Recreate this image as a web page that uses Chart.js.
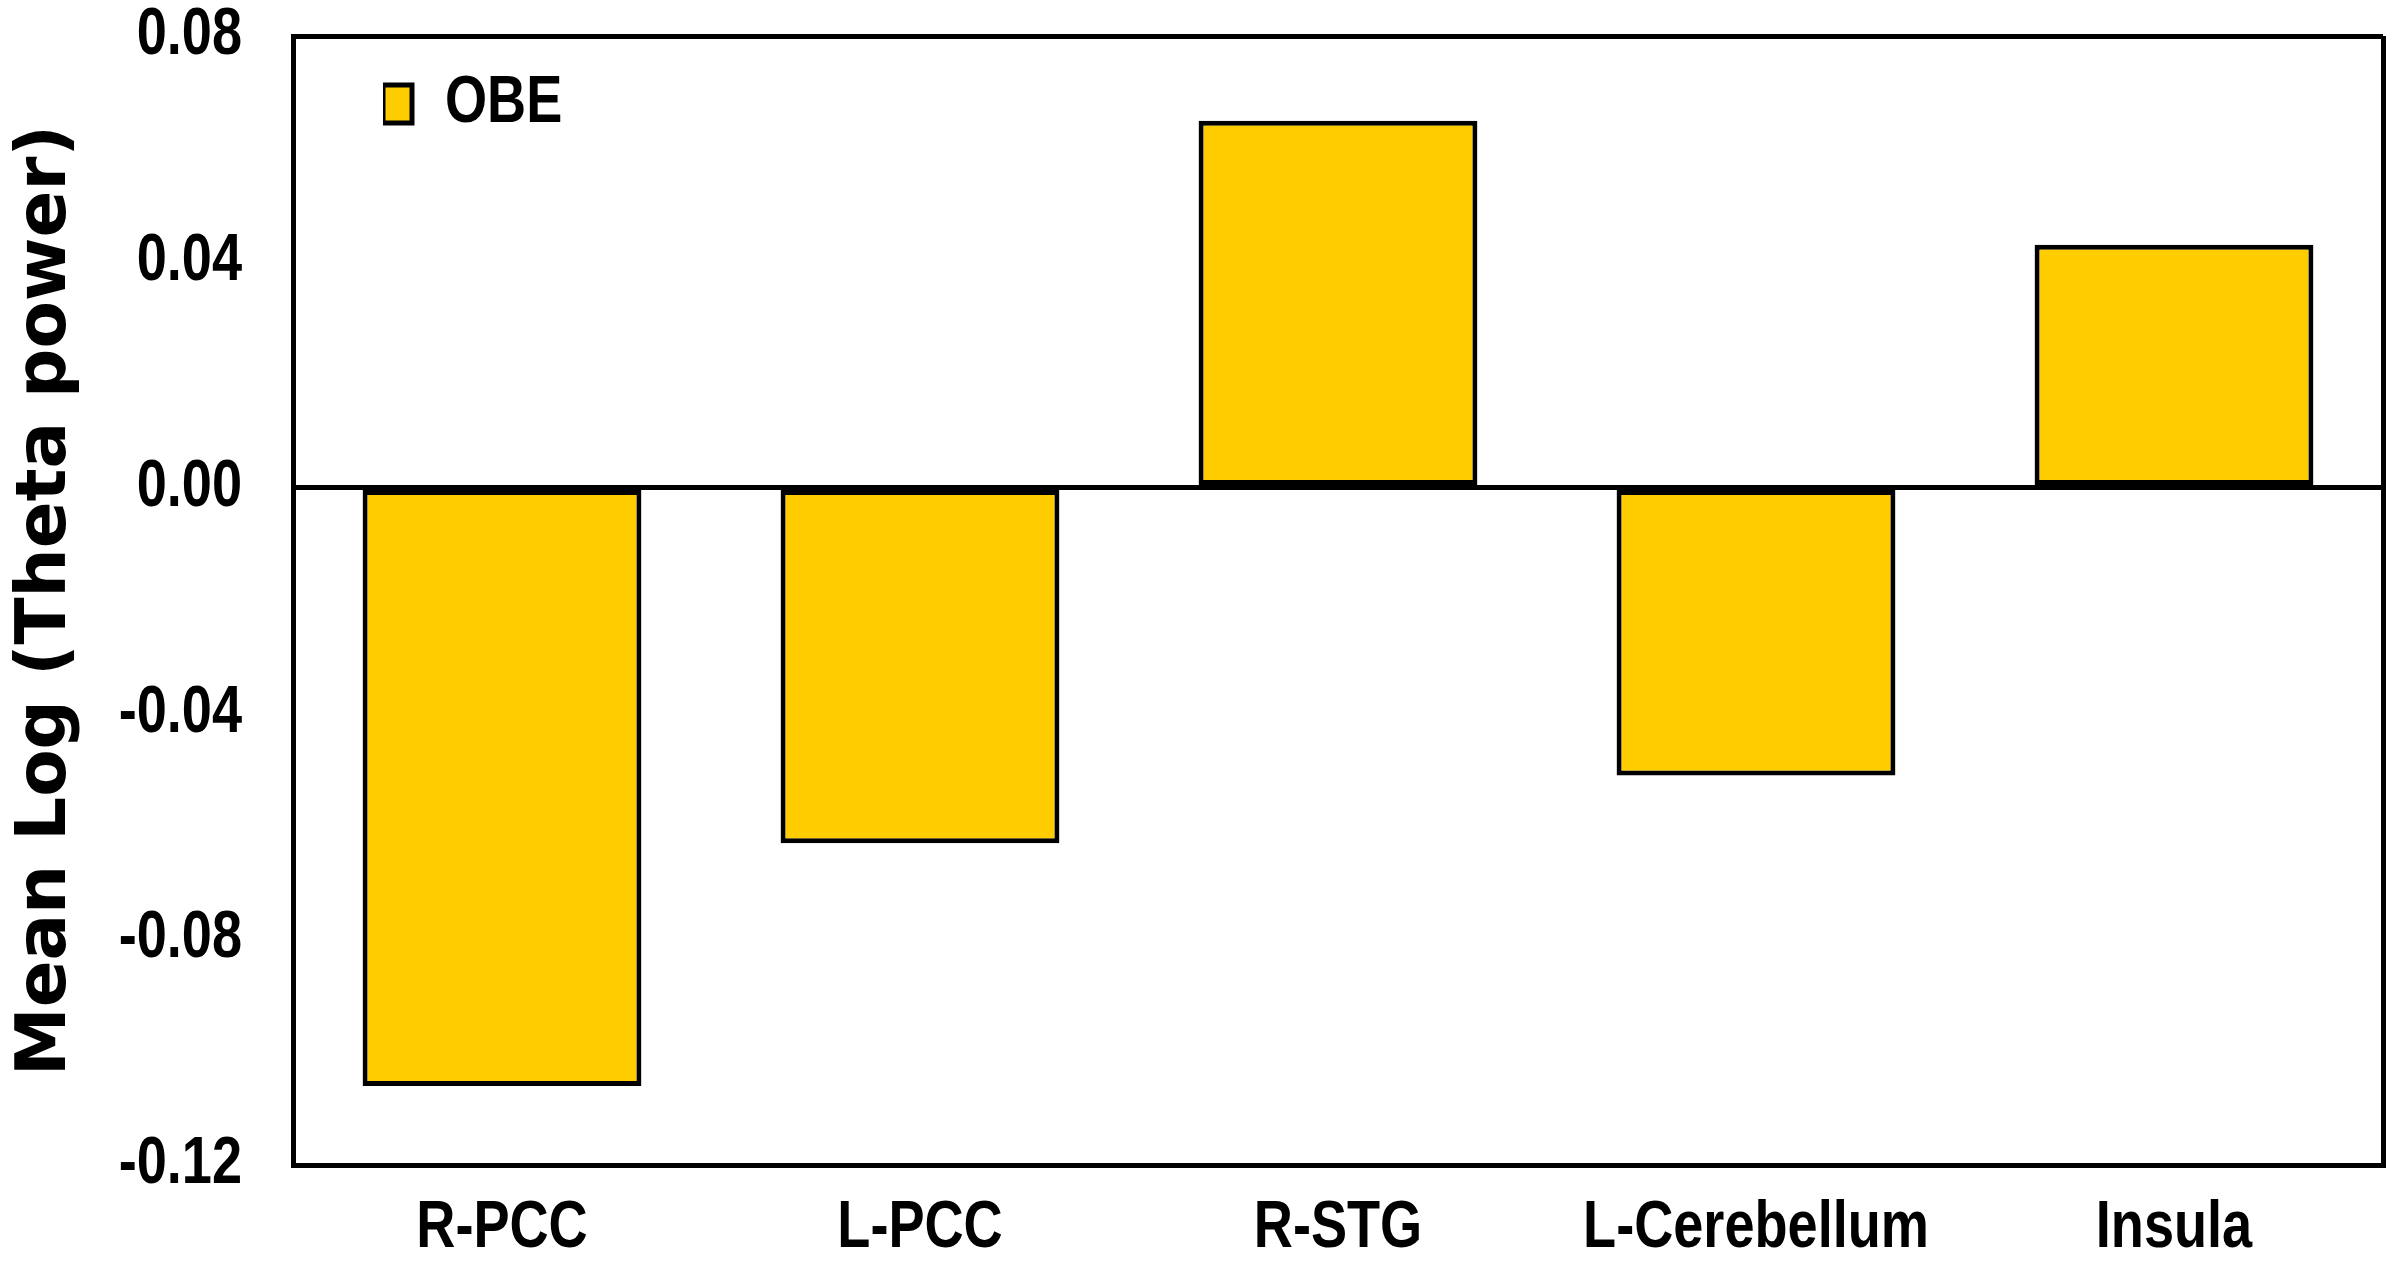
<!DOCTYPE html>
<html>
<head>
<meta charset="utf-8">
<title>OBE - Mean Log (Theta power)</title>
<script src="https://cdn.jsdelivr.net/npm/chart.js@4.4.1/dist/chart.umd.min.js"></script>
<style>
  html, body { margin: 0; padding: 0; background: #fff; }
  #contenedor { width: 2400px; height: 1267px; position: relative; }
</style>
</head>
<body>
<div id="contenedor"><canvas id="grafica"></canvas></div>
<script>
// Datos
const regiones = ['R-PCC', 'L-PCC', 'R-STG', 'L-Cerebellum', 'Insula'];
const valoresOBE = [-0.106, -0.063, 0.065, -0.051, 0.043];
const ticksY = [-0.12, -0.08, -0.04, 0.00, 0.04, 0.08];
const nombreSerie = 'OBE';
const tituloY = 'Mean Log (Theta power)';

const fuenteEtiquetas = "'Liberation Sans', Arial, sans-serif";
const fuenteTitulo = "'DejaVu Sans', Verdana, sans-serif";
const amarillo = '#FFCC00';
const estrechamiento = 0.82; // las etiquetas del original usan una letra estrecha

// Dibuja las etiquetas (no el titulo del eje) con la letra comprimida en horizontal
const textoEstrecho = {
    id: 'textoEstrecho',
    beforeInit(chart) {
        const ctx = chart.ctx;
        const fillOriginal = ctx.fillText.bind(ctx);
        ctx.fillText = function (texto, x, y, maxWidth) {
            if (ctx.font.indexOf('Liberation') === -1) {
                return fillOriginal(texto, x, y, maxWidth);
            }
            ctx.save();
            ctx.translate(x, y);
            ctx.scale(estrechamiento, 1);
            fillOriginal(texto, 0, 0);
            ctx.restore();
        };
    }
};

// Coloca la leyenda dentro del area del grafico, arriba a la izquierda
const moverLeyenda = {
    id: 'moverLeyenda',
    afterLayout(chart) {
        const leyenda = chart.legend;
        const area = chart.chartArea;
        const w = leyenda.width;
        const h = leyenda.height;
        leyenda.left = area.left + 90;
        leyenda.top = area.top + 35;
        leyenda.right = leyenda.left + w;
        leyenda.bottom = leyenda.top + h;
    }
};

function crearGrafica() {
    const datos = {
        labels: regiones,
        datasets: [{
            label: nombreSerie,
            data: valoresOBE,
            backgroundColor: amarillo,
            borderColor: '#000',
            borderWidth: 5,
            borderSkipped: false,
            barPercentage: 0.667,
            categoryPercentage: 1.0
        }]
    };

    const opciones = {
        responsive: true,
        maintainAspectRatio: false,
        animation: false,
        devicePixelRatio: 1,
        layout: { padding: { top: 36, right: 17, bottom: 0, left: 0 } },
        plugins: {
            tooltip: { enabled: false },
            legend: {
                position: 'chartArea',
                align: 'start',
                labels: {
                    boxWidth: 29,
                    boxHeight: 38,
                    padding: 0,
                    color: '#000',
                    font: { family: fuenteEtiquetas, weight: 'bold', size: 66 }
                }
            }
        },
        scales: {
            x: {
                afterFit(escala) {
                    escala.height = 102;
                    escala.paddingLeft = 0;
                    escala.paddingRight = 0;
                },
                grid: {
                    offset: true,
                    drawTicks: false,
                    lineWidth: 5,
                    color: (c) => (c.type === 'scale' ? '#000' : 'rgba(0,0,0,0)')
                },
                border: { display: true, color: '#000', width: 5 },
                ticks: {
                    color: '#000',
                    padding: 24,
                    maxRotation: 0,
                    minRotation: 0,
                    autoSkip: false,
                    font: { family: fuenteEtiquetas, weight: 'bold', size: 66 }
                }
            },
            y: {
                min: ticksY[0],
                max: ticksY[ticksY.length - 1],
                afterFit(escala) {
                    escala.width = 293;
                    escala.paddingTop = 0;
                    escala.paddingBottom = 0;
                },
                afterBuildTicks(escala) {
                    escala.ticks = ticksY.map((v) => ({ value: v }));
                },
                grid: {
                    drawTicks: false,
                    lineWidth: 5,
                    color: (c) => {
                        if (c.tick && (c.tick.value === 0 || c.tick.value === ticksY[ticksY.length - 1])) {
                            return '#000';
                        }
                        return 'rgba(0,0,0,0)';
                    }
                },
                border: { display: true, color: '#000', width: 5 },
                ticks: {
                    color: '#000',
                    padding: 51,
                    font: { family: fuenteEtiquetas, weight: 'bold', size: 66 },
                    callback: (v) => (Math.abs(v) < 1e-9 ? '0.00' : Number(v).toFixed(2))
                },
                title: {
                    display: true,
                    text: tituloY,
                    color: '#000',
                    padding: { top: 6, bottom: 0 },
                    font: { family: fuenteTitulo, weight: 'bold', size: 69 }
                }
            }
        }
    };

    new Chart(document.getElementById('grafica'), {
        type: 'bar',
        data: datos,
        options: opciones,
        plugins: [textoEstrecho, moverLeyenda]
    });
}

window.addEventListener('load', function () {
    crearGrafica();
});
</script>
</body>
</html>
